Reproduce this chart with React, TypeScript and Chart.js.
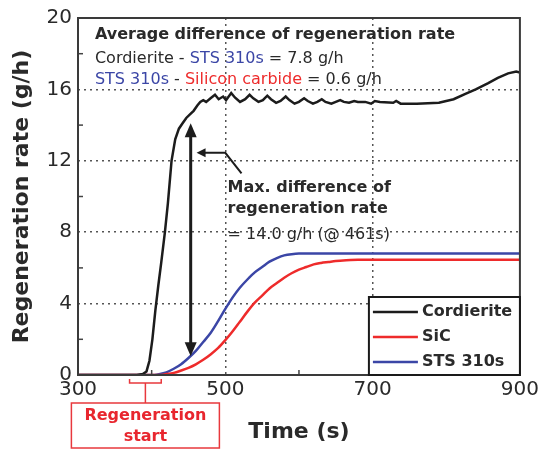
import { useEffect, useRef } from 'react';
import { Chart, registerables } from 'chart.js';
Chart.register(...registerables);

// ---------- data ----------
const cordieriteTime = [300, 380, 388, 393, 397, 401, 405, 409, 413, 418, 422, 427, 432, 437, 442, 447, 452, 457, 462, 466, 470, 474, 480, 486, 491, 497, 501, 508, 513, 520, 527, 533, 538, 545, 551, 557, 562, 569, 575, 582, 587, 594, 600, 607, 612, 619, 625, 631, 636, 644, 650, 656, 661, 668, 675, 680, 690, 698, 703, 710, 728, 732, 738, 760, 790, 810, 826, 840, 857, 870, 884, 895, 900];
const cordieriteRate = [0, 0, 0.05, 0.2, 0.8, 2.0, 3.6, 5.0, 6.3, 8.0, 9.6, 12.0, 13.2, 13.8, 14.1, 14.4, 14.6, 14.8, 15.1, 15.3, 15.4, 15.3, 15.5, 15.7, 15.45, 15.6, 15.4, 15.8, 15.55, 15.3, 15.45, 15.7, 15.5, 15.3, 15.4, 15.65, 15.45, 15.25, 15.35, 15.6, 15.4, 15.2, 15.3, 15.5, 15.35, 15.2, 15.3, 15.45, 15.3, 15.2, 15.3, 15.4, 15.3, 15.25, 15.35, 15.3, 15.3, 15.2, 15.35, 15.3, 15.25, 15.35, 15.2, 15.2, 15.25, 15.45, 15.75, 16.0, 16.35, 16.65, 16.9, 17.0, 16.95];

const sicTime = [300, 410, 420, 430, 440, 450, 460, 470, 480, 490, 500, 510, 520, 530, 540, 550, 560, 570, 580, 590, 600, 610, 620, 630, 640, 650, 660, 670, 680, 900];
const sicRate = [0, 0, 0.05, 0.12, 0.25, 0.4, 0.6, 0.85, 1.15, 1.5, 1.95, 2.45, 3.0, 3.55, 4.05, 4.45, 4.85, 5.15, 5.45, 5.7, 5.9, 6.05, 6.2, 6.28, 6.33, 6.38, 6.42, 6.44, 6.45, 6.45];

const stsTime = [300, 400, 410, 420, 430, 440, 450, 460, 470, 480, 490, 500, 510, 520, 530, 540, 550, 560, 570, 580, 590, 600, 900];
const stsRate = [0, 0, 0.05, 0.15, 0.35, 0.6, 0.95, 1.35, 1.85, 2.35, 3.0, 3.7, 4.35, 4.9, 5.35, 5.75, 6.05, 6.35, 6.55, 6.7, 6.77, 6.8, 6.8];

const seriesNames = ['Cordierite', 'SiC', 'STS 310s'];
const xTickLabels = [300, 500, 700, 900];
const yTickLabels = [0, 4, 8, 12, 16, 20];
const xMinorTicks = [400, 600, 800];
const yMinorTicks = [2, 6, 10, 14, 18];
const xGridValues = [500, 700];
const yGridValues = [4, 8, 12, 16];

// annotations
const regenStartRange = [370, 413];
const maxDiffArrowTime = 453;
const maxDiffArrowLow = 1.05;
const maxDiffArrowHigh = 14.1;
const pointerPath = [[522, 11.3], [500, 12.45], [461, 12.45]];

const BLACK = '#1c1c1c';
const RED = '#ee2b2b';
const BLUE = '#3b46a6';
const TEXT = '#2a2a2a';
const FONT = '"DejaVu Sans", Verdana, sans-serif';

type Seg = [string, string];

function drawSegs(ctx: CanvasRenderingContext2D, segs: Seg[], x: number, y: number) {
  let cx = x;
  for (const [t, c] of segs) {
    ctx.fillStyle = c;
    ctx.fillText(t, cx, y);
    cx += ctx.measureText(t).width;
  }
}

function arrowHead(ctx: CanvasRenderingContext2D, tx: number, ty: number, ang: number, len: number, w: number) {
  ctx.beginPath();
  ctx.moveTo(tx, ty);
  ctx.lineTo(tx - len * Math.cos(ang) + (w / 2) * Math.sin(ang), ty - len * Math.sin(ang) - (w / 2) * Math.cos(ang));
  ctx.lineTo(tx - len * Math.cos(ang) - (w / 2) * Math.sin(ang), ty - len * Math.sin(ang) + (w / 2) * Math.cos(ang));
  ctx.closePath();
  ctx.fill();
}

const overlayPlugin = {
  id: 'overlay',
  afterDraw(chart: any) {
    const { ctx, chartArea: ca, scales } = chart;
    const xs = scales.x;
    const ys = scales.y;
    ctx.save();

    // minor ticks (inward)
    ctx.strokeStyle = '#444';
    ctx.lineWidth = 1.5;
    ctx.setLineDash([]);
    for (const v of xMinorTicks) {
      const px = xs.getPixelForValue(v);
      ctx.beginPath();
      ctx.moveTo(px, ca.bottom);
      ctx.lineTo(px, ca.bottom - 5);
      ctx.stroke();
    }
    for (const v of yMinorTicks) {
      const py = ys.getPixelForValue(v);
      ctx.beginPath();
      ctx.moveTo(ca.left, py);
      ctx.lineTo(ca.left + 5, py);
      ctx.stroke();
    }

    // top-left text block
    ctx.textBaseline = 'middle';
    ctx.textAlign = 'left';
    const tx = xs.getPixelForValue(323);
    ctx.font = `bold 16px ${FONT}`;
    drawSegs(ctx, [['Average difference of regeneration rate', TEXT]], tx, ys.getPixelForValue(19.05));
    ctx.font = `16px ${FONT}`;
    drawSegs(ctx, [['Cordierite - ', TEXT], ['STS 310s', BLUE], [' = 7.8 g/h', TEXT]], tx, ys.getPixelForValue(17.7));
    drawSegs(ctx, [['STS 310s', BLUE], [' - ', TEXT], ['Silicon carbide', RED], [' = 0.6 g/h', TEXT]], tx, ys.getPixelForValue(16.55));

    // double arrow
    ctx.fillStyle = BLACK;
    ctx.strokeStyle = BLACK;
    const ax = xs.getPixelForValue(maxDiffArrowTime);
    const aTop = ys.getPixelForValue(maxDiffArrowHigh);
    const aBot = ys.getPixelForValue(maxDiffArrowLow);
    ctx.lineWidth = 3;
    ctx.beginPath();
    ctx.moveTo(ax, aTop + 10);
    ctx.lineTo(ax, aBot - 10);
    ctx.stroke();
    arrowHead(ctx, ax, aTop, -Math.PI / 2, 14, 12);
    arrowHead(ctx, ax, aBot, Math.PI / 2, 14, 12);

    // pointer arrow
    ctx.lineWidth = 2;
    ctx.beginPath();
    pointerPath.forEach(([t, v], i) => {
      const px = xs.getPixelForValue(t);
      const py = ys.getPixelForValue(v);
      if (i === 0) ctx.moveTo(px, py);
      else if (i === pointerPath.length - 1) ctx.lineTo(px + 6, py);
      else ctx.lineTo(px, py);
    });
    ctx.stroke();
    const tip = pointerPath[pointerPath.length - 1];
    arrowHead(ctx, xs.getPixelForValue(tip[0]), ys.getPixelForValue(tip[1]), Math.PI, 9, 9);

    // max difference text
    const mx = xs.getPixelForValue(503);
    ctx.font = `bold 16px ${FONT}`;
    drawSegs(ctx, [['Max. difference of', TEXT]], mx, ys.getPixelForValue(10.5));
    drawSegs(ctx, [['regeneration rate', TEXT]], mx, ys.getPixelForValue(9.3));
    ctx.font = `16px ${FONT}`;
    drawSegs(ctx, [['= 14.0 g/h (@ 461s)', TEXT]], mx, ys.getPixelForValue(7.85));

    // frame
    ctx.strokeStyle = '#3a3a3a';
    ctx.lineWidth = 2;
    ctx.strokeRect(ca.left, ca.top, ca.right - ca.left, ca.bottom - ca.top);

    // legend box
    const lw = 151;
    const lh = 78;
    const lx = ca.right - lw;
    const ly = ca.bottom - lh;
    ctx.fillStyle = '#ffffff';
    ctx.fillRect(lx, ly, lw, lh);
    ctx.strokeStyle = '#1a1a1a';
    ctx.lineWidth = 2;
    ctx.strokeRect(lx, ly, lw, lh);
    ctx.font = `bold 16px ${FONT}`;
    chart.data.datasets.forEach((ds: any, i: number) => {
      const yy = ly + 15 + i * 25;
      ctx.strokeStyle = ds.borderColor;
      ctx.lineWidth = 2.5;
      ctx.beginPath();
      ctx.moveTo(lx + 4, yy);
      ctx.lineTo(lx + 49, yy);
      ctx.stroke();
      ctx.fillStyle = TEXT;
      ctx.fillText(ds.label, lx + 53, yy);
    });

    // regeneration start bracket and box
    const bx1 = xs.getPixelForValue(regenStartRange[0]);
    const bx2 = xs.getPixelForValue(regenStartRange[1]);
    const bc = (bx1 + bx2) / 2;
    const b = ca.bottom;
    ctx.strokeStyle = '#e8383d';
    ctx.lineWidth = 1.5;
    ctx.beginPath();
    ctx.moveTo(bx1, b + 4);
    ctx.lineTo(bx1, b + 8);
    ctx.lineTo(bx2, b + 8);
    ctx.lineTo(bx2, b + 4);
    ctx.moveTo(bc, b + 8);
    ctx.lineTo(bc, b + 28);
    ctx.stroke();
    ctx.strokeRect(bc - 74, b + 28, 148, 45);
    ctx.fillStyle = '#e8262e';
    ctx.textAlign = 'center';
    ctx.font = `bold 16px ${FONT}`;
    ctx.fillText('Regeneration', bc, b + 41);
    ctx.fillText('start', bc, b + 62);

    ctx.restore();
  },
};

function toPoints(xs: number[], ys: number[]) {
  return xs.map((x, i) => ({ x, y: ys[i] }));
}

export default function App() {
  const ref = useRef<HTMLCanvasElement | null>(null);
  useEffect(() => {
    document.body.style.margin = '0';
    const canvas = ref.current;
    if (!canvas) return;
    const chart = new Chart(canvas, {
      type: 'line',
      data: {
        datasets: [
          { label: seriesNames[0], data: toPoints(cordieriteTime, cordieriteRate), borderColor: BLACK, borderWidth: 2.5, pointRadius: 0, tension: 0 },
          { label: seriesNames[1], data: toPoints(sicTime, sicRate), borderColor: RED, borderWidth: 2.5, pointRadius: 0, cubicInterpolationMode: 'monotone' },
          { label: seriesNames[2], data: toPoints(stsTime, stsRate), borderColor: BLUE, borderWidth: 2.5, pointRadius: 0, cubicInterpolationMode: 'monotone' },
        ],
      },
      options: {
        animation: false,
        responsive: false,
        devicePixelRatio: 1,
        layout: { padding: { left: 0, right: 18, top: 16, bottom: 0 } },
        plugins: { legend: { display: false }, tooltip: { enabled: false } },
        scales: {
          x: {
            type: 'linear',
            min: 300,
            max: 900,
            afterBuildTicks: (s: any) => { s.ticks = xTickLabels.map((v) => ({ value: v })); },
            afterFit: (s: any) => { s.height = 77; },
            ticks: { padding: 3, color: TEXT, font: { family: FONT, size: 20 }, maxRotation: 0 },
            grid: {
              drawTicks: false,
              lineWidth: 1.5,
              color: (c: any) => (xGridValues.includes(c.tick?.value) ? '#555' : 'transparent'),
            },
            border: { display: false, dash: [2, 4] },
            title: { display: true, text: 'Time (s)', color: TEXT, font: { family: FONT, size: 22, weight: 'bold' }, padding: { top: 0, bottom: 7 } },
          },
          y: {
            type: 'linear',
            min: 0,
            max: 20,
            afterBuildTicks: (s: any) => { s.ticks = yTickLabels.map((v) => ({ value: v })); },
            afterFit: (s: any) => { s.width = 78; },
            ticks: { padding: 6, color: TEXT, font: { family: FONT, size: 20 } },
            grid: {
              drawTicks: false,
              lineWidth: 1.5,
              color: (c: any) => (yGridValues.includes(c.tick?.value) ? '#555' : 'transparent'),
            },
            border: { display: false, dash: [2, 4] },
            title: { display: true, text: 'Regeneration rate (g/h)', color: TEXT, font: { family: FONT, size: 22, weight: 'bold' }, padding: { top: 9, bottom: 0 } },
          },
        },
      },
      plugins: [overlayPlugin],
    } as any);
    return () => chart.destroy();
  }, []);
  return (
    <div style={{ width: 542, height: 452 }}>
      <canvas ref={ref} width={542} height={452} style={{ display: 'block' }} />
    </div>
  );
}
